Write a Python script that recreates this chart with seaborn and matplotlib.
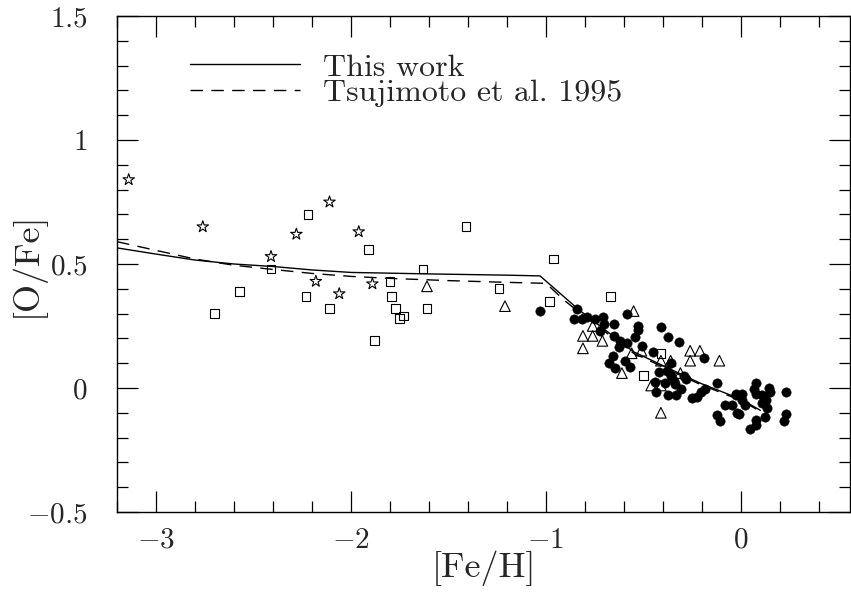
import numpy as np
import pandas as pd
import seaborn as sns
import matplotlib.pyplot as plt

# model curves
this_feh = [-3.2, -3.0, -2.8, -2.6, -2.4, -2.2, -2.0, -1.6, -1.2, -1.03, -0.83, -0.55, -0.21, 0.0, 0.1]
this_ofe = [0.565, 0.54, 0.516, 0.50, 0.49, 0.476, 0.466, 0.46, 0.455, 0.452, 0.315, 0.146, 0.02, -0.045, -0.09]

tsuji_feh = [-3.2, -3.0, -2.8, -2.6, -2.4, -2.2, -2.0, -1.8, -1.5, -1.2, -1.0, -0.9, -0.83, -0.55, -0.21, 0.0, 0.1]
tsuji_ofe = [0.59, 0.555, 0.52, 0.495, 0.478, 0.462, 0.45, 0.442, 0.433, 0.426, 0.422, 0.35, 0.306, 0.14, 0.015, -0.05, -0.094]

# observations
star_feh = [-3.14, -2.76, -2.41, -2.28, -2.11, -2.18, -2.06, -1.96, -1.89]
star_ofe = [0.84, 0.65, 0.53, 0.62, 0.75, 0.43, 0.38, 0.63, 0.42]

sq_feh = [-2.70, -2.57, -2.41, -2.22, -2.23, -2.11, -1.91, -1.88, -1.80, -1.79, -1.77,
          -1.75, -1.73, -1.63, -1.61, -1.41, -1.24, -0.96, -0.98, -0.67, -0.41, -0.50]
sq_ofe = [0.30, 0.39, 0.48, 0.70, 0.37, 0.32, 0.56, 0.19, 0.43, 0.37, 0.32,
          0.28, 0.29, 0.48, 0.32, 0.65, 0.40, 0.52, 0.35, 0.37, 0.14, 0.05]

tri_feh = [-1.61, -1.21, -0.55, -0.81, -0.76, -0.71, -0.81, -0.76, -0.56, -0.51, -0.61,
           -0.41, -0.36, -0.31, -0.26, -0.21, -0.26, -0.11, -0.46, -0.41, -0.41]
tri_ofe = [0.41, 0.33, 0.31, 0.21, 0.21, 0.19, 0.16, 0.25, 0.14, 0.15, 0.06,
           0.11, 0.11, 0.06, 0.15, 0.15, 0.11, 0.11, 0.01, 0.01, -0.10]

dot_feh = [-1.03, -0.84, -0.855, -0.815, -0.79, -0.75, -0.705, -0.70, -0.65, -0.585,
           -0.525, -0.53, -0.72, -0.65, -0.62, -0.585, -0.545, -0.625, -0.655, -0.41,
           -0.375, -0.315, -0.505, -0.45, -0.675, -0.645, -0.595, -0.57, -0.36, -0.19,
           -0.42, -0.38, -0.36, -0.345, -0.29, -0.28, -0.44, -0.39, -0.34, -0.435,
           -0.375, -0.33, -0.305, -0.25, -0.225, -0.205, -0.185, -0.12, -0.025, -0.08,
           -0.045, -0.12, -0.105, -0.02, -0.025, 0.005, 0.005, 0.02, 0.08, 0.065,
           0.08, 0.145, 0.15, 0.11, 0.13, 0.11, 0.135, 0.125, 0.08, 0.08,
           0.045, -0.01, 0.23, 0.23, 0.22]
dot_ofe = [0.31, 0.32, 0.28, 0.28, 0.285, 0.28, 0.285, 0.26, 0.26, 0.30,
           0.25, 0.235, 0.23, 0.21, 0.19, 0.18, 0.205, 0.165, 0.13, 0.245,
           0.205, 0.185, 0.17, 0.145, 0.10, 0.08, 0.11, 0.085, 0.10, 0.12,
           0.065, 0.07, 0.05, 0.03, 0.05, 0.035, 0.025, 0.02, 0.018, -0.015,
           -0.03, -0.03, -0.005, -0.04, -0.035, -0.015, -0.005, 0.02, -0.03, -0.07,
           -0.07, -0.11, -0.135, -0.10, -0.025, -0.025, -0.05, -0.07, 0.02, -0.005,
           -0.025, 0.0, -0.015, -0.03, -0.05, -0.06, -0.08, -0.115, -0.13, -0.15,
           -0.165, -0.105, -0.015, -0.105, -0.135]

xticks = [-3, -2, -1, 0]
xtick_labels = ["$-3$", "$-2$", "$-1$", "$0$"]
yticks = [-0.5, 0, 0.5, 1, 1.5]
ytick_labels = ["$-0.5$", "$0$", "$0.5$", "$1$", "$1.5$"]

sns.set_style("ticks")
plt.rcParams["font.family"] = ["cmr10", "DejaVu Serif"]
plt.rcParams["mathtext.fontset"] = "cm"
plt.rcParams["axes.formatter.use_mathtext"] = True

fig = plt.figure(figsize=(8.51, 5.98), dpi=100)
ax = fig.add_axes([117 / 851, 1 - 512 / 598, 733 / 851, 496 / 598])

models = pd.DataFrame({"feh": this_feh, "ofe": this_ofe})
tsuji = pd.DataFrame({"feh": tsuji_feh, "ofe": tsuji_ofe})
sns.lineplot(data=models, x="feh", y="ofe", sort=False, estimator=None,
             color="black", lw=1.0, ax=ax, label="This work")
sns.lineplot(data=tsuji, x="feh", y="ofe", sort=False, estimator=None,
             color="black", lw=1.0, ax=ax, label="Tsujimoto et al. 1995")
ax.lines[1].set_dashes((9, 6))

open_kw = dict(facecolor="none", edgecolor="black", linewidth=0.8)
sns.scatterplot(x=star_feh, y=star_ofe, marker="*", s=75, ax=ax, **open_kw)
sns.scatterplot(x=sq_feh, y=sq_ofe, marker="s", s=40, ax=ax, **open_kw)
sns.scatterplot(x=tri_feh, y=tri_ofe, marker="^", s=58, ax=ax, **open_kw)
sns.scatterplot(x=dot_feh, y=dot_ofe, marker="o", s=46, color="black",
                edgecolor="black", linewidth=0.3, ax=ax)

ax.set_xlim(-3.2, 0.56)
ax.set_ylim(-0.5, 1.5)
ax.set_xticks(xticks, xtick_labels)
ax.set_yticks(yticks, ytick_labels)
ax.set_xticks(np.arange(-3.2, 0.6, 0.2), minor=True)
ax.set_yticks(np.arange(-0.5, 1.5, 0.1), minor=True)
ax.tick_params(which="both", direction="in", top=True, right=True, width=0.9, color="black")
ax.tick_params(which="major", length=15)
ax.tick_params(which="minor", length=8)
ax.tick_params(axis="x", which="major", labelsize=21, pad=11)
ax.tick_params(axis="y", which="major", labelsize=21, pad=21)
for sp in ax.spines.values():
    sp.set_linewidth(1.0)
    sp.set_color("black")

ax.set_xlabel("[Fe/H]", fontsize=26, labelpad=-2)
ax.set_ylabel("[O/Fe]", fontsize=26)
ax.yaxis.set_label_coords(-0.098, 0.5)

leg = ax.legend(loc="upper left", bbox_to_anchor=(73 / 733, 0.925), frameon=False,
                fontsize=23, handlelength=3.45, handletextpad=0.72,
                labelspacing=-0.1, borderpad=0, borderaxespad=0)

fig.savefig("out.png", dpi=100)
